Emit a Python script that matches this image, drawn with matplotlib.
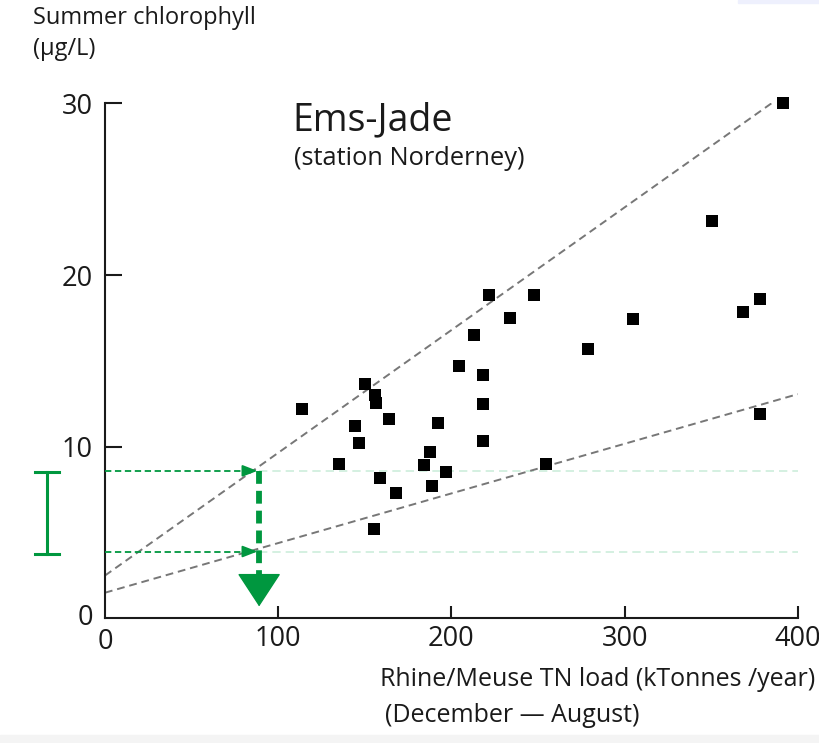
import matplotlib
matplotlib.use('Agg')
import matplotlib.pyplot as plt
from matplotlib.patches import Rectangle

# data
tn_load = [113.9, 150.1, 156.0, 156.6, 144.1, 163.8, 146.4, 134.9, 192.0, 187.4,
           184.3, 196.8, 158.7, 167.8, 188.7, 155.1, 204.5, 213.2, 218.2, 218.2,
           218.0, 221.6, 233.8, 247.8, 391.2, 350.2, 304.6, 278.8, 368.4, 378.4,
           378.1, 254.7]
chlorophyll = [12.2, 13.64, 13.02, 12.53, 11.21, 11.62, 10.2, 9.02, 11.4, 9.7,
               8.92, 8.51, 8.2, 7.31, 7.7, 5.2, 14.7, 16.53, 14.2, 12.51,
               10.32, 18.86, 17.52, 18.86, 30.04, 23.13, 17.43, 15.71, 17.83, 18.63,
               11.91, 9.0]

# envelope lines (x0, y0) -> (x1, y1)
upper_x = [0, 400]
upper_y = [2.5, 31.1]
lower_x = [0, 400]
lower_y = [1.5, 13.07]

target_load = 89
chl_high = 8.6
chl_low = 3.9
arrow_bottom = 0.7

x_ticks = [100, 200, 300, 400]
y_ticks = [10, 20, 30]

green = '#00973f'
pale_green = '#cdeedb'
ink = '#1a1a1a'

plt.rcParams['font.family'] = ['Open Sans', 'DejaVu Sans']

fig = plt.figure(figsize=(8.2, 7.43), dpi=100)
ax = fig.add_axes([0.128, 0.1676, 0.845, 0.6931])

ax.plot(upper_x, upper_y, ls=(0, (4, 2.5)), color='#777777', lw=1.4, zorder=2)
ax.plot(lower_x, lower_y, ls=(0, (4, 2.5)), color='#777777', lw=1.4, zorder=2)

# pale continuation of the green guides
ax.plot([target_load, 400], [chl_high, chl_high], ls=(0, (5, 3)), color=pale_green, lw=1.2, zorder=1)
ax.plot([target_load, 400], [chl_low, chl_low], ls=(0, (5, 3)), color=pale_green, lw=1.2, zorder=1)

# green dashed guides with arrow heads
for yv in [chl_high, chl_low]:
    ax.plot([0, target_load - 5], [yv, yv], ls=(0, (3.5, 2)), color=green, lw=1.3, zorder=3)
    ax.annotate('', xy=(target_load - 1, yv), xytext=(target_load - 9, yv),
                arrowprops=dict(arrowstyle='-|>,head_length=0.9,head_width=0.35',
                                color=green, lw=1.3, shrinkA=0, shrinkB=0), zorder=3)

ax.plot([target_load, target_load], [chl_high, arrow_bottom + 1.5], ls=(0, (2.2, 1.2)),
        color=green, lw=4.2, zorder=3, solid_capstyle='butt', dash_capstyle='butt')
ax.annotate('', xy=(target_load, arrow_bottom), xytext=(target_load, arrow_bottom + 2.0),
            arrowprops=dict(arrowstyle='-|>,head_length=1.1,head_width=0.72',
                            color=green, lw=1, shrinkA=0, shrinkB=0, mutation_scale=20), zorder=3)

ax.scatter(tn_load, chlorophyll, marker='s', s=72, color='black', linewidths=0, zorder=4, clip_on=False)

# range bar left of the axis
ax.plot([-33.5, -33.5], [chl_low - 0.15, chl_high - 0.05], color=green, lw=2.2, clip_on=False)
for yv in [chl_low - 0.15, chl_high - 0.05]:
    ax.plot([-40.5, -26.5], [yv, yv], color=green, lw=2.2, clip_on=False)

ax.set_xlim(0, 400)
ax.set_ylim(0, 30)
ax.spines['top'].set_visible(False)
ax.spines['right'].set_visible(False)
ax.spines['left'].set_linewidth(1.5)
ax.spines['bottom'].set_linewidth(1.5)
ax.spines['left'].set_color(ink)
ax.spines['bottom'].set_color(ink)
ax.set_xticks(x_ticks)
ax.set_yticks(y_ticks)
ax.tick_params(axis='y', direction='in', length=12, width=1.5, labelsize=19.5, pad=9,
               color=ink, labelcolor=ink)
ax.tick_params(axis='x', direction='in', length=8.5, width=1.5, labelsize=19.5, pad=5,
               color=ink, labelcolor=ink)
ax.text(-7, 0, '0', ha='right', va='center', fontsize=19.5, color=ink)
ax.text(0, -0.55, '0', ha='center', va='top', fontsize=19.5, color=ink)

fig.text(0.040, 0.976, 'Summer chlorophyll', fontsize=17, va='center', color=ink)
fig.text(0.040, 0.934, '(µg/L)', fontsize=17, va='center', color=ink)
fig.text(0.357, 0.838, 'Ems-Jade', fontsize=27, va='center', color=ink)
fig.text(0.359, 0.787, '(station Norderney)', fontsize=18.3, va='center', color=ink)
fig.text(0.463, 0.085, 'Rhine/Meuse TN load (kTonnes /year)', fontsize=18, va='center', color=ink)
fig.text(0.469, 0.037, '(December \u2014 August)', fontsize=18, va='center', color=ink)

# faint page edges from the source
fig.patches.append(Rectangle((0.0, 0.0), 1.0, 0.011, transform=fig.transFigure,
                             color='#f4f4f4', zorder=0))
fig.patches.append(Rectangle((0.9, 0.996), 0.1, 0.004, transform=fig.transFigure,
                             color='#eef0fd', zorder=0))

fig.savefig('out.png', dpi=100)
